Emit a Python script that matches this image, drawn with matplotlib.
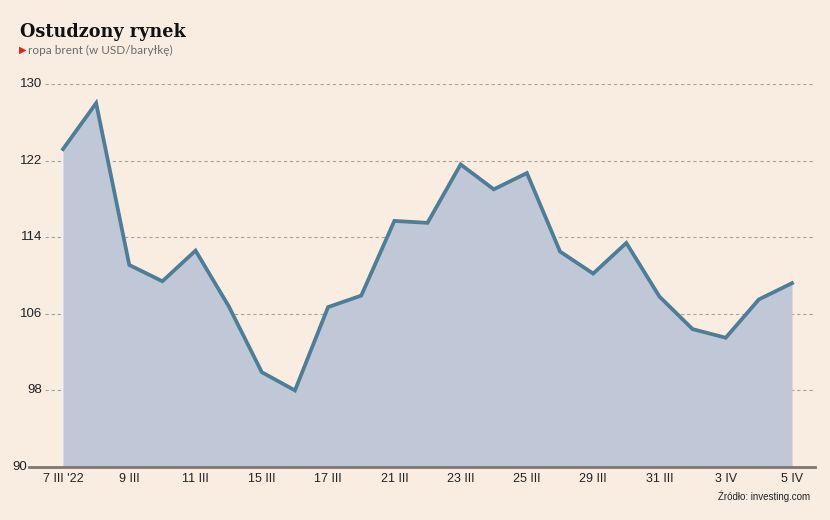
import matplotlib.pyplot as plt
from matplotlib.lines import Line2D

# ropa brent, USD/baryłkę, kolejne sesje
dni = ["7 III '22", "8 III", "9 III", "10 III", "11 III", "14 III", "15 III", "16 III",
       "17 III", "18 III", "21 III", "22 III", "23 III", "24 III", "25 III", "28 III",
       "29 III", "30 III", "31 III", "1 IV", "3 IV", "4 IV", "5 IV"]
ceny = [123.2, 128.0, 111.1, 109.4, 112.6, 106.8, 99.9, 98.0,
        106.7, 107.9, 115.7, 115.5, 121.6, 119.0, 120.7, 112.5,
        110.2, 113.4, 107.8, 104.4, 103.5, 107.5, 109.2]
y_ticks = [90, 98, 106, 114, 122, 130]

bg = '#f9ede1'
W, H = 830, 520
narrow = ['Liberation Sans', 'DejaVu Sans']

fig = plt.figure(figsize=(8.3, 5.2), dpi=100, facecolor=bg)
ax = fig.add_axes([45 / W, 53 / H, (815 - 45) / W, (467 - 84) / H])
ax.set_facecolor(bg)

x = list(range(len(ceny)))
ax.fill_between(x, 90, ceny, color='#c0c7d6', lw=0, zorder=1)
ax.plot(x, ceny, color='#4e7d98', lw=2.7, solid_joinstyle='miter', zorder=3)

step = (792 - 63) / 22
ax.set_xlim(-(63 - 45) / step, 22 + (815 - 792) / step)
ax.set_ylim(90, 130)

for v in y_ticks[1:]:
    ax.axhline(v, color='#a8a29c', lw=0.8, ls=(0, (3, 2.5)), zorder=0)
ax.add_line(Line2D([-(63 - 29) / step, 22 + (815 - 792) / step], [90, 90],
                   color='#7d7772', lw=2, clip_on=False, zorder=4))

for s in ax.spines.values():
    s.set_visible(False)

# etykiety osi Y: "90" stoi przed linią bazową, reszta przed liniami siatki
ax.set_yticks([])
for v in y_ticks:
    right = 27 if v == 90 else 42
    ax.text((right - 45) / (815 - 45), v, str(v), transform=ax.get_yaxis_transform(),
            ha='right', va='center', fontsize=9.5, color='#222222', family=narrow)

ax.set_xticks(x[::2])
ax.set_xticklabels(dni[::2], fontsize=9, color='#222222', family=narrow)
ax.tick_params(axis='x', length=0, pad=4)

fig.text(20 / W, 1 - 37 / H, 'Ostudzony rynek', fontsize=12.7, fontweight='bold',
         family=['DejaVu Serif'], color='#111111')
fig.text(19 / W, 1 - 50 / H, '\u25B6', fontsize=7, color='#e2231a', va='center',
         family='DejaVu Sans')
fig.text(28 / W, 1 - 50 / H, 'ropa brent (w USD/baryłkę)', fontsize=8.5,
         color='#6f6a66', va='center', family=['Lato', 'DejaVu Sans'])
fig.text(810 / W, 1 - 496 / H, 'Źródło: investing.com', fontsize=7, ha='right',
         va='center', color='#222222', family=narrow)

fig.savefig('out.png', dpi=100, facecolor=bg)
